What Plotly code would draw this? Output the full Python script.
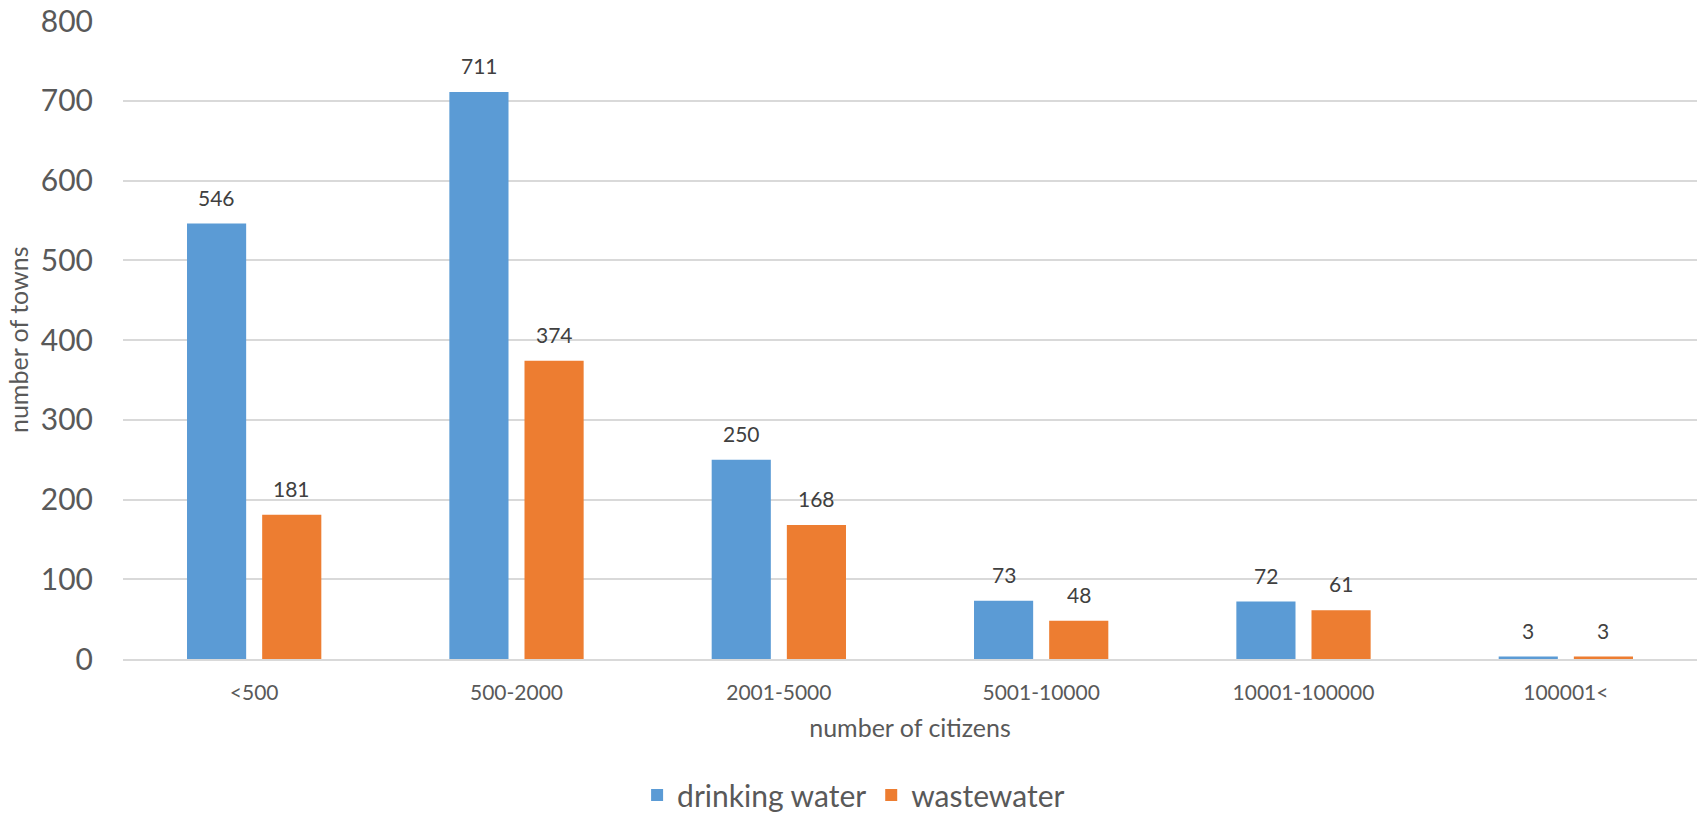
import plotly.graph_objects as go

# Town counts by size class
categories = ["<500", "500-2000", "2001-5000", "5001-10000", "10001-100000", "100001<"]
drinking_water = [546, 711, 250, 73, 72, 3]
wastewater = [181, 374, 168, 48, 61, 3]

BLUE = "#5B9BD5"
ORANGE = "#ED7D31"
TEXT = "#595959"
LABEL = "#404040"
FONT = "Lato"

fig = go.Figure()
fig.add_trace(go.Bar(name="drinking water", x=categories, y=drinking_water,
                     marker=dict(color=BLUE, line=dict(width=0))))
fig.add_trace(go.Bar(name="wastewater", x=categories, y=wastewater,
                     marker=dict(color=ORANGE, line=dict(width=0))))

# Value labels above each bar
for series, shift in ((drinking_water, -37.5), (wastewater, 37.5)):
    for cat, val in zip(categories, series):
        fig.add_annotation(x=cat, y=val, xref="x", yref="y", text=str(val),
                           showarrow=False, xshift=shift, yshift=12,
                           yanchor="bottom",
                           font=dict(family=FONT, size=21, color=LABEL))

# Rotated y-axis title
fig.add_annotation(x=-0.0667, y=0.5, xref="paper", yref="paper", text="number of towns",
                   showarrow=False, textangle=-90, xanchor="center", yanchor="middle",
                   font=dict(family=FONT, size=25, color=TEXT))

fig.update_layout(
    width=1697, height=821,
    margin=dict(l=123, r=0, t=21, b=162, autoexpand=False),
    paper_bgcolor="white", plot_bgcolor="white",
    barmode="group", bargap=0.427, bargroupgap=0.213,
    font=dict(family=FONT, color=TEXT),
    legend=dict(orientation="h", xref="container", yref="container",
                x=0.503, xanchor="center", y=0.0, yanchor="bottom",
                font=dict(family=FONT, size=30, color=TEXT), itemwidth=30,
                traceorder="normal"),
    xaxis=dict(
        title=dict(text="number of citizens", font=dict(family=FONT, size=25, color=TEXT),
                   standoff=16),
        tickfont=dict(family=FONT, size=21, color=TEXT),
        ticks="outside", ticklen=14, tickcolor="rgba(0,0,0,0)",
        showline=True, linecolor="#D9D9D9", linewidth=2,
        showgrid=False, automargin=False,
    ),
    yaxis=dict(
        range=[0, 800], dtick=100,
        tickfont=dict(family=FONT, size=30, color=TEXT),
        ticks="outside", ticklen=23, tickcolor="rgba(0,0,0,0)",
        showgrid=True, gridcolor="#D9D9D9", gridwidth=1.5,
        zeroline=False, showline=False, automargin=False,
    ),
)

fig.write_html("out.html")
